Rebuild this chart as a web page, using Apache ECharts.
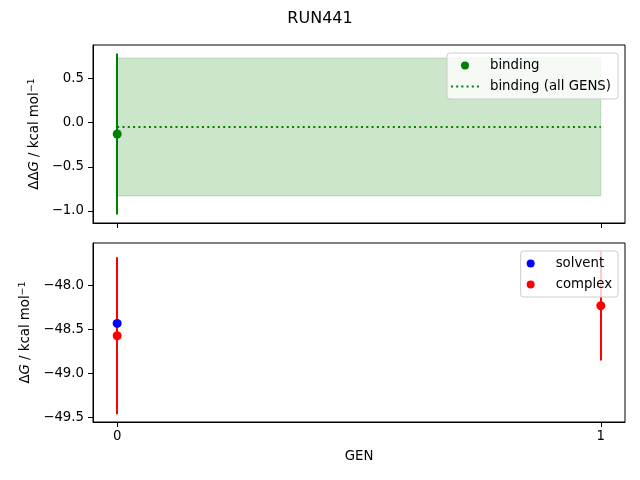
<!DOCTYPE html>
<html>
<head>
<meta charset="utf-8">
<script src="https://cdn.jsdelivr.net/npm/echarts@6/dist/echarts.min.js"></script>
<style>
  html, body { margin: 0; padding: 0; background: #fff; }
  #main { width: 640px; height: 480px; }
</style>
</head>
<body>
<div id="main"></div>
<script>
// data
var gens = [0, 1];
var bindingGen = [0];
var bindingVal = [-0.13];
var bindingErr = [0.91];
var bindingAll = -0.05;
var bindingAllErr = 0.78;
var solventGen = [0];
var solventVal = [-48.43];
var solventErr = [0.3];
var complexGen = [0, 1];
var complexVal = [-48.57, -48.23];
var complexErr = [0.89, 0.62];
var topTicks = [-1.0, -0.5, 0.0, 0.5];
var botTicks = [-49.5, -49.0, -48.5, -48.0];

var font = 'DejaVu Sans';

function minus(v) {
  return Number(v).toFixed(1).replace('-', '\u2212');
}

function errRender(params, api) {
  var x = api.value(0), y = api.value(1), e = api.value(2);
  var p1 = api.coord([x, y + e]);
  var p2 = api.coord([x, y - e]);
  var px = Math.round(p1[0]);
  return {
    type: 'line',
    shape: { x1: px, y1: p1[1], x2: px, y2: p2[1] },
    style: { stroke: api.visual('color'), lineWidth: 2 }
  };
}

function bandRender(params, api) {
  var a = api.coord([gens[0], bindingAll + bindingAllErr]);
  var b = api.coord([gens[gens.length - 1], bindingAll - bindingAllErr]);
  return {
    type: 'rect',
    shape: { x: a[0], y: a[1], width: b[0] - a[0], height: b[1] - a[1] },
    style: { fill: 'rgba(0,128,0,0.2)', stroke: 'rgba(0,128,0,0.2)', lineWidth: 1 }
  };
}

function zip3(xs, ys, es) {
  return xs.map(function (x, i) { return [x, ys[i], es[i]]; });
}
function zip2(xs, ys) {
  return xs.map(function (x, i) { return [x, ys[i]]; });
}

// dotted legend handle
var dots = '';
for (var k = 0; k < 6; k++) {
  dots += 'M' + (k * 5.3) + ',0h2v2h-2z';
}
var dottedIcon = 'path://' + dots;

var yName = function (delta) {
  return '{n|' + delta + '}{i|G}{n| / kcal mol}{s|\u22121}';
};
var nameRich = {
  n: { fontFamily: font, fontSize: 13.3, color: '#000' },
  i: { fontFamily: font, fontSize: 13.3, fontStyle: 'italic', color: '#000' },
  s: { fontFamily: font, fontSize: 9.5, color: '#000', verticalAlign: 'bottom', padding: [0, 0, 6, 0] }
};

var legendBase = {
  orient: 'vertical',
  right: 22,
  itemWidth: 28,
  itemHeight: 8,
  itemGap: 8,
  backgroundColor: 'rgba(255,255,255,0.8)',
  borderColor: '#cccccc',
  borderWidth: 1,
  borderRadius: 3,
  textStyle: { fontFamily: font, fontSize: 13.3, color: '#000', padding: [0, 0, 0, 6] }
};

var option = {
  animation: false,
  backgroundColor: '#fff',
  title: {
    text: 'RUN441',
    left: 'center',
    top: 6,
    textStyle: { fontFamily: font, fontSize: 16, fontWeight: 'normal', color: '#000' }
  },
  legend: [
    Object.assign({}, legendBase, {
      top: 53, padding: [6, 7, 6, 4],
      data: ['binding', { name: 'binding (all GENS)', icon: dottedIcon }]
    }),
    Object.assign({}, legendBase, {
      top: 251, padding: [6, 6, 6, 6],
      data: ['solvent', 'complex']
    })
  ],
  grid: [
    { left: 93, top: 45, width: 532, height: 178, show: true, borderColor: '#000', borderWidth: 1 },
    { left: 93, top: 243, width: 532, height: 179, show: true, borderColor: '#000', borderWidth: 1 }
  ],
  xAxis: [
    {
      gridIndex: 0, type: 'value', min: -0.05, max: 1.05,
      axisLine: { onZero: false, lineStyle: { color: '#000' } },
      axisTick: { customValues: gens, length: 5, lineStyle: { color: '#000' } },
      axisLabel: { show: false },
      splitLine: { show: false }
    },
    {
      gridIndex: 1, type: 'value', min: -0.05, max: 1.05,
      name: 'GEN', nameLocation: 'middle', nameGap: 28,
      nameTextStyle: { fontFamily: font, fontSize: 13.3, color: '#000' },
      axisLine: { onZero: false, lineStyle: { color: '#000' } },
      axisTick: { customValues: gens, length: 5, lineStyle: { color: '#000' } },
      axisLabel: { customValues: gens, margin: 8, fontFamily: font, fontSize: 13.3, color: '#000' },
      splitLine: { show: false }
    }
  ],
  yAxis: [
    {
      gridIndex: 0, type: 'value', min: -1.136, max: 0.877,
      name: yName('\u0394\u0394'), nameLocation: 'middle', nameGap: 48,
      nameTextStyle: { rich: nameRich },
      axisLine: { show: true, onZero: false, lineStyle: { color: '#000' } },
      axisTick: { show: true, customValues: topTicks, length: 5, lineStyle: { color: '#000' } },
      axisLabel: { customValues: topTicks, margin: 9, formatter: minus, fontFamily: font, fontSize: 13.3, color: '#000' },
      splitLine: { show: false }
    },
    {
      gridIndex: 1, type: 'value', min: -49.549, max: -47.518,
      name: yName('\u0394'), nameLocation: 'middle', nameGap: 59,
      nameTextStyle: { rich: nameRich },
      axisLine: { show: true, onZero: false, lineStyle: { color: '#000' } },
      axisTick: { show: true, customValues: botTicks, length: 5, lineStyle: { color: '#000' } },
      axisLabel: { customValues: botTicks, margin: 9, formatter: minus, fontFamily: font, fontSize: 13.3, color: '#000' },
      splitLine: { show: false }
    }
  ],
  series: [
    {
      name: 'band', type: 'custom', xAxisIndex: 0, yAxisIndex: 0,
      renderItem: bandRender, data: [[0, bindingAll]], encode: { x: 0, y: 1 }, silent: true, z: 1
    },
    {
      name: 'binding (all GENS)', type: 'line', xAxisIndex: 0, yAxisIndex: 0,
      data: [[gens[0], bindingAll], [gens[gens.length - 1], bindingAll]],
      symbol: 'none', color: '#008000',
      itemStyle: { color: '#008000' },
      lineStyle: { color: '#008000', width: 2, type: [2, 3.3] }, z: 2
    },
    {
      name: 'binding err', type: 'custom', xAxisIndex: 0, yAxisIndex: 0,
      renderItem: errRender, data: zip3(bindingGen, bindingVal, bindingErr),
      encode: { x: 0, y: 1 }, itemStyle: { color: '#008000' }, z: 3
    },
    {
      name: 'binding', type: 'scatter', xAxisIndex: 0, yAxisIndex: 0,
      data: zip2(bindingGen, bindingVal), symbolSize: 9, color: '#008000',
      itemStyle: { color: '#008000', opacity: 1 }, z: 4
    },
    {
      name: 'solvent err', type: 'custom', xAxisIndex: 1, yAxisIndex: 1,
      renderItem: errRender, data: zip3(solventGen, solventVal, solventErr),
      encode: { x: 0, y: 1 }, itemStyle: { color: '#0000ff' }, z: 2
    },
    {
      name: 'complex err', type: 'custom', xAxisIndex: 1, yAxisIndex: 1,
      renderItem: errRender, data: zip3(complexGen, complexVal, complexErr),
      encode: { x: 0, y: 1 }, itemStyle: { color: '#ff0000' }, z: 3
    },
    {
      name: 'solvent', type: 'scatter', xAxisIndex: 1, yAxisIndex: 1,
      data: zip2(solventGen, solventVal), symbolSize: 9, color: '#0000ff',
      itemStyle: { color: '#0000ff', opacity: 1 }, z: 4
    },
    {
      name: 'complex', type: 'scatter', xAxisIndex: 1, yAxisIndex: 1,
      data: zip2(complexGen, complexVal), symbolSize: 9, color: '#ff0000',
      itemStyle: { color: '#ff0000', opacity: 1 }, z: 5
    }
  ]
};

var chart = echarts.init(document.getElementById('main'));
chart.setOption(option);
</script>
</body>
</html>
